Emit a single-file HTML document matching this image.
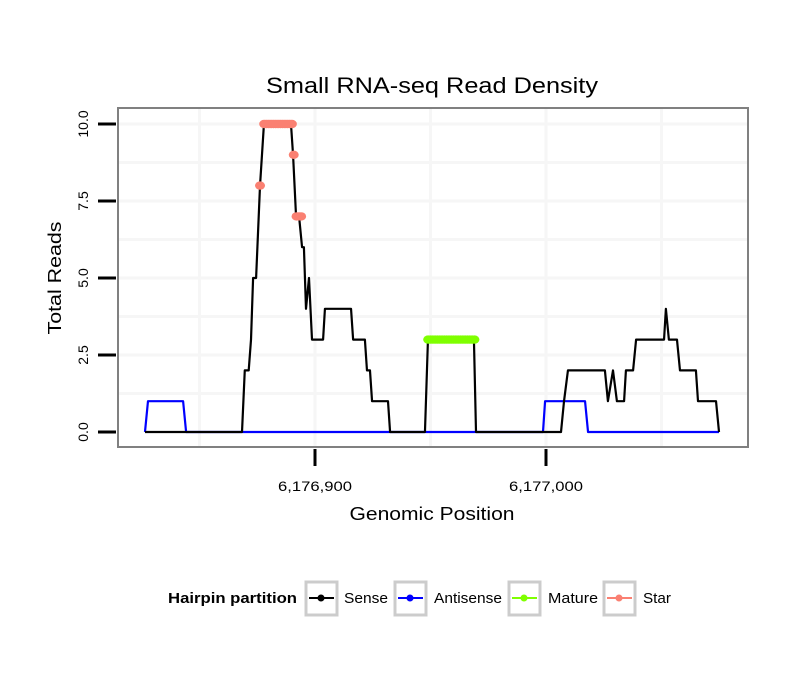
<!DOCTYPE html>
<html><head><meta charset="utf-8"><style>
body{margin:0;background:#fff;}
svg{display:block;font-family:"Liberation Sans",sans-serif;}
</style></head><body>
<svg id="chart" width="810" height="690">
<rect width="810" height="690" fill="#fff"/>
<text x="432" y="93" font-size="22" text-anchor="middle" textLength="332" lengthAdjust="spacingAndGlyphs">Small RNA-seq Read Density</text>
<g id="grid"></g>
<g id="series"></g>
<rect x="118" y="108" width="630" height="339" fill="none" stroke="#808080" stroke-width="2"/>
<g id="axes"></g>
<text x="432" y="520" font-size="18" text-anchor="middle" textLength="165" lengthAdjust="spacingAndGlyphs">Genomic Position</text>
<text transform="translate(61,278) rotate(-90)" font-size="18" text-anchor="middle" textLength="113" lengthAdjust="spacingAndGlyphs">Total Reads</text>
<g>
<text x="168" y="603" font-size="15" font-weight="bold" textLength="129" lengthAdjust="spacingAndGlyphs">Hairpin partition</text>
<g>
<rect x="306" y="582" width="31" height="33" fill="#fff" stroke="#ccc" stroke-width="3"/>
<line x1="309" y1="598" x2="334" y2="598" stroke="#000" stroke-width="2"/><circle cx="321" cy="598" r="3.5" fill="#000"/>
<text x="344" y="603" font-size="15" textLength="44" lengthAdjust="spacingAndGlyphs">Sense</text></g>
<g>
<rect x="395" y="582" width="31" height="33" fill="#fff" stroke="#ccc" stroke-width="3"/>
<line x1="398" y1="598" x2="423" y2="598" stroke="#0000ff" stroke-width="2"/><circle cx="410" cy="598" r="3.5" fill="#0000ff"/>
<text x="434" y="603" font-size="15" textLength="68" lengthAdjust="spacingAndGlyphs">Antisense</text></g>
<g>
<rect x="509" y="582" width="31" height="33" fill="#fff" stroke="#ccc" stroke-width="3"/>
<line x1="512" y1="598" x2="537" y2="598" stroke="#7fff00" stroke-width="2"/><circle cx="524" cy="598" r="3.5" fill="#7fff00"/>
<text x="548" y="603" font-size="15" textLength="50" lengthAdjust="spacingAndGlyphs">Mature</text></g>
<g>
<rect x="604" y="582" width="31" height="33" fill="#fff" stroke="#ccc" stroke-width="3"/>
<line x1="607" y1="598" x2="632" y2="598" stroke="#fa8072" stroke-width="2"/><circle cx="619" cy="598" r="3.5" fill="#fa8072"/>
<text x="643" y="603" font-size="15" textLength="28" lengthAdjust="spacingAndGlyphs">Star</text></g>
</g>
</svg>
<script>
// positions are offsets from 6,176,800
const senseX=[26.4,68.4,69.6,71.3,72.3,73.2,74.5,76.2,77.9,89.6,90.5,91.8,93.1,94.4,95.2,96.1,97.4,98.7,103.5,104.3,115.6,116.5,121.6,122.5,123.8,124.7,131.6,132.5,147.6,148.9,168.8,169.7,206.5,207.8,209.5,225.5,226.8,229.0,230.7,233.8,234.6,237.7,239.0,251.1,251.9,253.2,256.7,258.0,264.9,265.8,273.6,274.9];
const senseY=[0,0,2,2,3,5,5,8,10,10,9,7,7,6,6,4,5,3,3,4,4,3,3,2,2,1,1,0,0,3,3,0,0,1,2,2,1,2,1,1,2,2,3,3,4,3,3,2,2,1,1,0];
const antiX=[26.4,27.7,42.9,44.2,198.7,199.6,216.9,218.2,274.9];
const antiY=[0,1,1,0,0,1,1,0,0];
const matureX=[149,150,151,152,153,154,155,156,157,158,159,160,161,162,163,164,165,166,167,168,169];
const matureY=[3,3,3,3,3,3,3,3,3,3,3,3,3,3,3,3,3,3,3,3,3];
const starX=[76.2,78,79,80,81,82,83,84,85,86,87,88,89,90,90.8,92,93,94];
const starY=[8,10,10,10,10,10,10,10,10,10,10,10,10,10,9,7,7,7];
const yTicks=[0,2.5,5,7.5,10];
const yTickLabels=["0.0","2.5","5.0","7.5","10.0"];
const xTicks=[100,200];
const xTickLabels=["6,176,900","6,177,000"];

const NS="http://www.w3.org/2000/svg";
const sx=v=>315+(v-100)*2.31;
const sy=v=>432-v*30.8;
function mk(tag,attrs,parent){const e=document.createElementNS(NS,tag);for(const k in attrs)e.setAttribute(k,attrs[k]);parent.appendChild(e);return e;}
const grid=document.getElementById('grid'),ser=document.getElementById('series'),axes=document.getElementById('axes');
[1.25,2.5,3.75,5,6.25,7.5,8.75,10].forEach(v=>{const l=mk('line',{x1:119,x2:747,y1:sy(v),y2:sy(v),stroke:'#f6f6f6','stroke-width':3},grid);

});
[50,100,150,200,250].forEach(v=>{const l=mk('line',{x1:sx(v),x2:sx(v),y1:109,y2:446,stroke:'#f6f6f6','stroke-width':3},grid);

});
function line(xs,ys,col,name){const p=mk('polyline',{points:xs.map((x,i)=>sx(x)+','+sy(ys[i])).join(' '),fill:'none',stroke:col,'stroke-width':2.2,'stroke-linejoin':'round'},ser);

}
line(antiX,antiY,'#0000ff','antisense-line');
line(senseX,senseY,'#000','sense-line');
function pts(xs,ys,col,name){xs.forEach((x,i)=>{const c=mk('ellipse',{cx:sx(x),cy:sy(ys[i]),rx:5,ry:4.2,fill:col},ser);

});}
pts(matureX,matureY,'#7fff00','mature-point');
pts(starX,starY,'#fa8072','star-point');
yTicks.forEach((v,i)=>{const l=mk('line',{x1:98,x2:116,y1:sy(v),y2:sy(v),stroke:'#000','stroke-width':3},axes);


const t=mk('text',{transform:`translate(88,${sy(v)}) rotate(-90)`,'font-size':14,'text-anchor':'middle'},axes);t.textContent=yTickLabels[i];

});
xTicks.forEach((v,i)=>{const l=mk('line',{x1:sx(v),x2:sx(v),y1:449,y2:466,stroke:'#000','stroke-width':3},axes);


const t=mk('text',{x:sx(v),y:491,'font-size':14,'text-anchor':'middle',textLength:74,lengthAdjust:'spacingAndGlyphs'},axes);t.textContent=xTickLabels[i];

});
</script>
</body></html>
